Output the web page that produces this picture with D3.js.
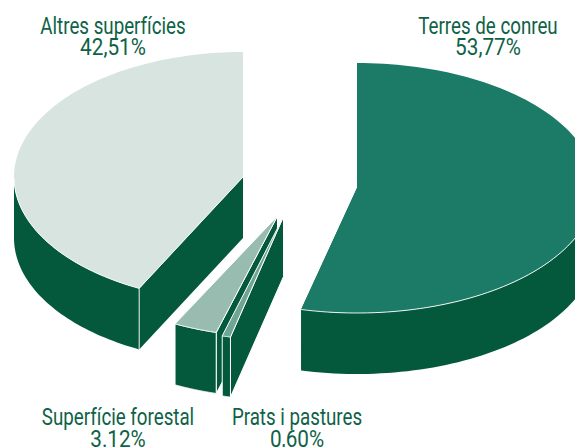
<!DOCTYPE html>
<html><head><meta charset="utf-8">
<script src="https://cdn.jsdelivr.net/npm/d3@7/dist/d3.min.js"></script>
<style>html,body{margin:0;padding:0;background:#fff;overflow:hidden}svg{display:block}</style>
</head><body><svg id="c" width="575" height="447"></svg>
<script>
const categories = ["Terres de conreu","Prats i pastures","Superfície forestal","Altres superfícies"];
const values = [53.77,0.60,3.12,42.51];
const valueLabels = ["53,77%","0,60%","3.12%","42,51%"];

const W=575,H=447;
const topColors = ["#1b7b67","#6fa595","#98bdb0","#d8e4e0"];
const sideColor = "#04593d";
const layout = [
 {cx:357,cy:188,rx:238,ry:125,d:61},
 {cx:283.5,cy:216.5,rx:226,ry:124,d:60},
 {cx:277.5,cy:216,rx:226,ry:121,d:61},
 {cx:243,cy:177,rx:229,ry:125,d:61}
];
const labelPos = [
 {x:488,y:34,y2:55},
 {x:297,y:425,y2:446.5},
 {x:118,y:425,y2:446.5},
 {x:113,y:34,y2:55}
];

const svg=d3.select("#c");
const arcs=d3.pie().sort(null).value(d=>d).startAngle(0).endAngle(2*Math.PI)(values);
const line=d3.line();
const pt=(l,a,dz=0)=>[l.cx+l.rx*Math.sin(a),l.cy-l.ry*Math.cos(a)+dz];
const samples=(a0,a1)=>d3.range(0,121).map(i=>a0+(a1-a0)*i/120);

function poly(points,fill,sw=1){
  svg.append("path").attr("d",line(points)+"Z").attr("fill",fill)
    .attr("stroke","#fff").attr("stroke-width",sw).attr("stroke-linejoin","round");
}

[0,3,2,1].forEach(i=>{
  const a=arcs[i], l=layout[i];
  const ring=samples(a.startAngle,a.endAngle);
  const c0=[l.cx,l.cy], c1=[l.cx,l.cy+l.d];
  if(i===0){
    const e=pt(l,a.endAngle);
    poly([c0,c1,[e[0],e[1]+l.d],e],sideColor,0);
  }
  if(i===3){
    const s=pt(l,a.startAngle);
    poly([c0,c1,[s[0],s[1]+l.d],s],sideColor,0);
  }
  if(i===1||i===2){
    const s=pt(l,a.startAngle);
    poly([c0,c1,[s[0],s[1]+l.d],s],sideColor,1);
  }
  const wall=ring.filter(t=>Math.cos(t)<=0);
  if(wall.length){
    const pts=wall.map(t=>pt(l,t)).concat(wall.slice().reverse().map(t=>pt(l,t,l.d)));
    poly(pts,sideColor,(i===0||i===3)?0:1);
    if(i===3){
      svg.append("path").attr("d",line([pt(l,a.startAngle),pt(l,a.startAngle,l.d)]))
        .attr("stroke","#fff").attr("stroke-width",0.9).attr("fill","none");
    }
  }
  poly([c0].concat(ring.map(t=>pt(l,t))),topColors[i],(i===0||i===3)?0:1);
  if(i===0||i===3){
    const front=ring.filter(t=>Math.cos(t)<=0).map(t=>pt(l,t));
    svg.append("path").attr("d",line(front)).attr("fill","none")
      .attr("stroke","#fff").attr("stroke-width",0.9);
    if(i===3){
      svg.append("path").attr("d",line([c0,pt(l,a.startAngle)])).attr("fill","none")
        .attr("stroke","#fff").attr("stroke-width",0.9);
    }
  }
});

const nameScaleX=0.815, valueScaleX=0.90;
categories.forEach((c,i)=>{
  const p=labelPos[i];
  const g=svg.append("g").attr("text-anchor","middle").attr("fill","#0f6247")
    .attr("font-family","Roboto,'Liberation Sans',sans-serif").attr("font-weight",400)
    .attr("font-size",23);
  g.append("text").attr("transform",`translate(${p.x},${p.y}) scale(${nameScaleX},1)`).text(c);
  g.append("text").attr("transform",`translate(${p.x},${p.y2}) scale(${valueScaleX},1)`).text(valueLabels[i]);
});
</script></body></html>
